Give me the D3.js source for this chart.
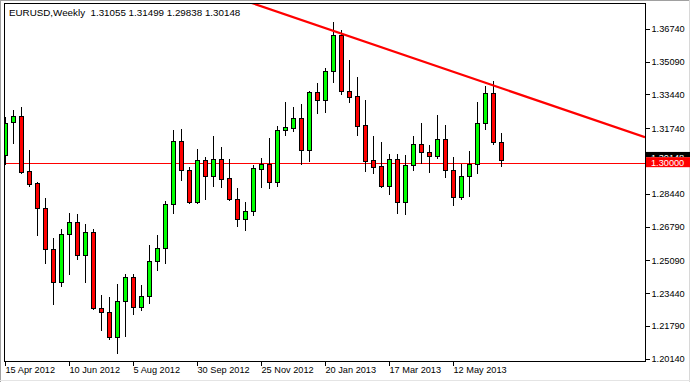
<!DOCTYPE html>
<html><head><meta charset="utf-8">
<script src="https://cdn.jsdelivr.net/npm/d3@7"></script>
<style>
body{margin:0;background:#fff}
svg{display:block}
text{font-family:"Liberation Sans",Arial,sans-serif}
</style></head><body>
<svg id="c" width="690" height="382"></svg>
<script>
const symbolTitle = "EURUSD,Weekly";
const lastOHLC = [1.31055, 1.31499, 1.29838, 1.30148];

const open  = [1.3039,1.3203,1.3235,1.2958,1.2899,1.2771,1.2564,1.2398,1.2640,1.2700,
               1.2534,1.2650,1.2268,1.2248,1.2125,1.2303,1.2424,1.2273,1.2328,1.2504,
               1.2569,1.2791,1.3108,1.2962,1.2804,1.3012,1.2932,1.3017,1.2922,1.2819,
               1.2715,1.2756,1.2967,1.2993,1.2901,1.3163,1.3173,1.3223,1.3062,1.3354,
               1.3315,1.3460,1.3642,1.3359,1.3334,1.3188,1.3012,1.2983,1.2884,1.3017,
               1.2801,1.2988,1.3093,1.3052,1.3035,1.3118,1.2963,1.2826,1.2932,1.2992,
               1.3198,1.3349,1.31055];
const high  = [1.3230,1.3265,1.3282,1.3064,1.2904,1.2821,1.2620,1.2665,1.2746,1.2740,
               1.2690,1.2665,1.2335,1.2323,1.2390,1.2440,1.2440,1.2385,1.2586,1.2636,
               1.2809,1.3165,1.3168,1.2977,1.3067,1.3029,1.3134,1.3077,1.3017,1.2871,
               1.2802,1.2988,1.3022,1.3123,1.3185,1.3305,1.3279,1.3294,1.3362,1.3401,
               1.3475,1.3706,1.3665,1.3517,1.3430,1.3315,1.3134,1.3103,1.3044,1.3044,
               1.3039,1.3136,1.3198,1.3089,1.3240,1.3190,1.3029,1.2993,1.3059,1.3304,
               1.3386,1.3411,1.31499];
const low   = [1.2993,1.3101,1.2950,1.2883,1.2636,1.2494,1.2288,1.2381,1.2439,1.2517,
               1.2401,1.2263,1.2159,1.2115,1.2041,1.2130,1.2237,1.2259,1.2293,1.2460,
               1.2497,1.2749,1.2913,1.2799,1.2799,1.2819,1.2883,1.2876,1.2812,1.2682,
               1.2662,1.2737,1.2876,1.2871,1.2883,1.3138,1.3161,1.2992,1.3010,1.3252,
               1.3257,1.3407,1.3347,1.3304,1.3141,1.2960,1.2948,1.2880,1.2841,1.2746,
               1.2740,1.2963,1.2997,1.2952,1.3025,1.2930,1.2789,1.2816,1.2834,1.2950,
               1.3171,1.3093,1.29838];
const close = [1.3201,1.3235,1.2955,1.2891,1.2771,1.2564,1.2398,1.2640,1.2700,1.2534,
               1.2650,1.2268,1.2248,1.2125,1.2303,1.2424,1.2273,1.2328,1.2504,1.2569,
               1.2791,1.3108,1.2962,1.2804,1.3012,1.2932,1.3017,1.2917,1.2819,1.2715,
               1.2756,1.2972,1.2993,1.2901,1.3163,1.3178,1.3223,1.3062,1.3354,1.3315,
               1.3460,1.3642,1.3359,1.3332,1.3186,1.3010,1.2980,1.2884,1.3017,1.2801,
               1.2988,1.3093,1.3052,1.3035,1.3118,1.2963,1.2826,1.2933,1.2992,1.3198,
               1.3349,1.3103,1.30148];

const yTickValues = [1.36740,1.35090,1.33440,1.31740,1.28440,1.26790,1.25090,1.23440,1.21790,1.20140];
const xTickIndex  = [0,8,16,24,32,40,48,56];
const xTickLabels = ["15 Apr 2012","10 Jun 2012","5 Aug 2012","30 Sep 2012","25 Nov 2012","20 Jan 2013","17 Mar 2013","12 May 2013"];
const levelPrice  = 1.30000;
const trendIndex  = [42, 61];
const trendPrice  = [1.3650, 1.3389];

const svg = d3.select("#c");
const L = 4, T = 4, R = 645, B = 362;

const x = d3.scaleLinear().domain([0, 62]).range([5, 501]);
const y = d3.scaleLinear().domain([1.2014, 1.3674]).range([358.7, 28.7]);

// outer window borders
svg.append("line").attr("x1",0).attr("x2",690).attr("y1",0.5).attr("y2",0.5).attr("stroke","#a0a0a0");
svg.append("line").attr("x1",0.5).attr("x2",0.5).attr("y1",0).attr("y2",382).attr("stroke","#a0a0a0");
svg.append("line").attr("x1",689.5).attr("x2",689.5).attr("y1",0).attr("y2",382).attr("stroke","#d8d8d8");
svg.append("line").attr("x1",0).attr("x2",690).attr("y1",380.5).attr("y2",380.5).attr("stroke","#e4e4e4");

const defs = svg.append("defs");
defs.append("clipPath").attr("id","clip")
  .append("rect").attr("x",L+1).attr("y",T).attr("width",R-L-1).attr("height",B-T-1);

const plot = svg.append("g").attr("clip-path","url(#clip)");

// level line
const yl = Math.round(y(levelPrice)) + 0.5;
plot.append("line").attr("x1",L).attr("x2",R).attr("y1",yl).attr("y2",yl)
  .attr("stroke","#ff0000").attr("stroke-width",1);

// candles
const data = open.map((o,i)=>({i, o, h:high[i], l:low[i], c:close[i]}));
const cg = plot.append("g").attr("shape-rendering","crispEdges");
cg.selectAll("line.w").data(data).join("line").attr("class","w")
  .attr("x1",d=>x(d.i)+0.5).attr("x2",d=>x(d.i)+0.5)
  .attr("y1",d=>Math.round(y(d.h))).attr("y2",d=>Math.round(y(d.l))+1)
  .attr("stroke","#000");
cg.selectAll("rect.b").data(data).join("rect").attr("class","b")
  .attr("x",d=>x(d.i)-1.5)
  .attr("width",4)
  .attr("y",d=>Math.round(y(Math.max(d.o,d.c)))+0.5)
  .attr("height",d=>Math.max(1, Math.round(y(Math.min(d.o,d.c))) - Math.round(y(Math.max(d.o,d.c)))))
  .attr("fill",d=>d.c>=d.o?"#00ff00":"#ff0000")
  .attr("stroke","#000").attr("stroke-width",1);

// trend line
const slope = (trendPrice[1]-trendPrice[0])/(trendIndex[1]-trendIndex[0]);
const i0 = x.invert(L), i1 = x.invert(R);
plot.append("line")
  .attr("x1",x(i0)).attr("y1",y(trendPrice[0]+slope*(i0-trendIndex[0])))
  .attr("x2",x(i1)).attr("y2",y(trendPrice[0]+slope*(i1-trendIndex[0])))
  .attr("stroke","#ff0000").attr("stroke-width",2.2);

// frame
svg.append("rect").attr("x",L+0.5).attr("y",T-0.5).attr("width",R-L).attr("height",B-T)
  .attr("fill","none").attr("stroke","#000").attr("shape-rendering","crispEdges");

// y axis
const ya = svg.append("g").attr("transform",`translate(${R+0.5},0)`)
  .call(d3.axisRight(y).tickValues(yTickValues).tickSize(4).tickPadding(2).tickFormat(d3.format(".5f")));
ya.select(".domain").remove();
ya.selectAll("text").attr("font-size","9.2px").attr("fill","#000").attr("font-family","Liberation Sans, Arial, sans-serif");
ya.selectAll("line").attr("shape-rendering","crispEdges");

// x axis
const xa = svg.append("g").attr("transform",`translate(0,${B-0.5})`)
  .call(d3.axisBottom(x).tickValues(xTickIndex).tickSize(4).tickPadding(1).tickFormat((d,k)=>xTickLabels[k]));
xa.select(".domain").remove();
xa.selectAll("text").attr("text-anchor","start").attr("dx","0px").attr("font-size","9.2px").attr("fill","#000").attr("font-family","Liberation Sans, Arial, sans-serif");
xa.selectAll("line").attr("shape-rendering","crispEdges");

// current price label (mostly hidden behind the level label, as in the reference)
const yc = y(lastOHLC[3]);
const y3 = y(levelPrice);
const redTop = y3 - 5.5;
defs.append("clipPath").attr("id","blackclip")
  .append("rect").attr("x",R+1).attr("y",yc-8).attr("width",690-R-1).attr("height",redTop-(yc-8));
const bl = svg.append("g").attr("clip-path","url(#blackclip)");
bl.append("rect").attr("x",R+1).attr("y",yc-8).attr("width",690-R-1).attr("height",12).attr("fill","#000");
bl.append("text").attr("x",R+6).attr("y",yc+1.5).attr("font-size","9.2px").attr("fill","#fff").text(d3.format(".5f")(lastOHLC[3]));
svg.append("rect").attr("x",R+1).attr("y",redTop).attr("width",690-R-1).attr("height",10).attr("fill","#ff0000");
svg.append("text").attr("x",R+6).attr("y",y3+3).attr("font-size","9.2px").attr("fill","#fff").text(d3.format(".5f")(levelPrice));

// header
svg.append("text").attr("x",9).attr("y",16).attr("font-size","9.8px").attr("fill","#000")
  .attr("xml:space","preserve").style("white-space","pre")
  .text(symbolTitle + "  " + lastOHLC.map(d3.format(".5f")).join(" "));
</script>
</body></html>
